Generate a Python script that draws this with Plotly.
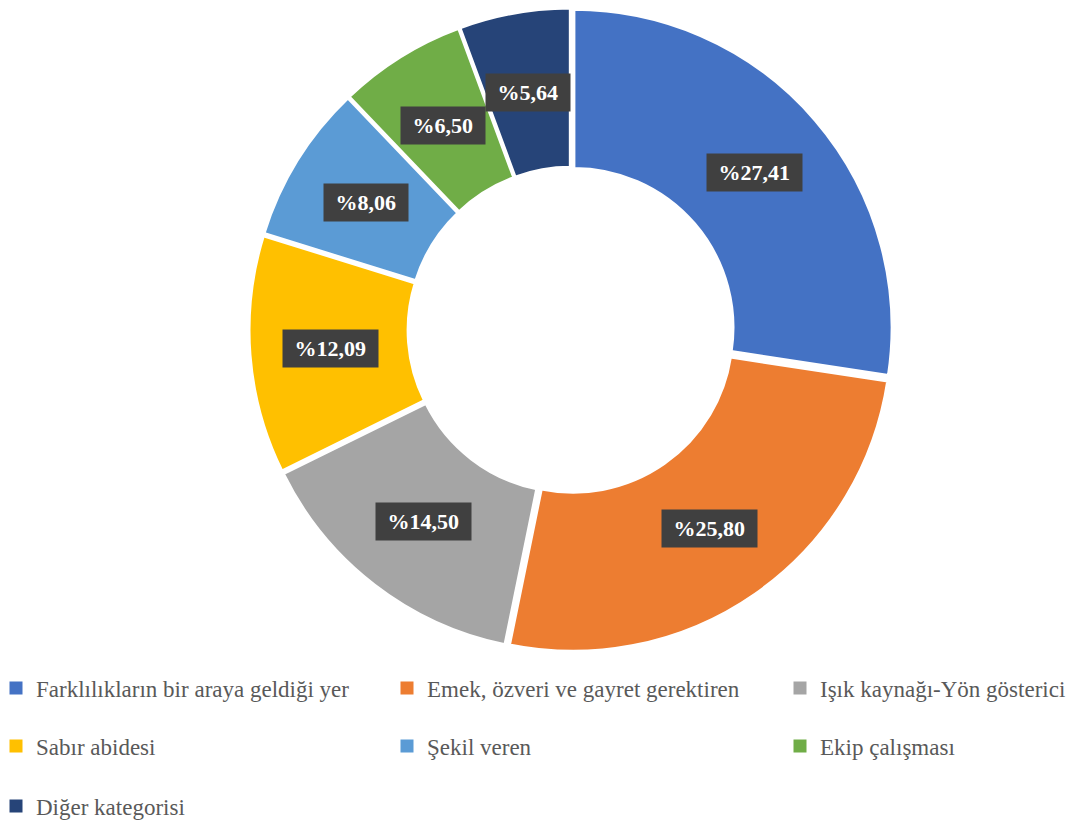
import math
import plotly.graph_objects as go

categories = [
    "Farklılıkların bir araya geldiği yer",
    "Emek, özveri ve gayret gerektiren",
    "Işık kaynağı-Yön gösterici",
    "Sabır abidesi",
    "Şekil veren",
    "Ekip çalışması",
    "Diğer kategorisi",
]
values = [27.41, 25.80, 14.50, 12.09, 8.06, 6.50, 5.64]
colors = ["#4472C4", "#ED7D31", "#A5A5A5", "#FFC000", "#5B9BD5", "#70AD47", "#264478"]

W, H = 1078, 826
CX, R = 563, 322
CY = R  # domain centre (top of domain at top of figure)
HOLE = 0.5
FONT = "Liberation Serif, Times New Roman, serif"

fig = go.Figure()
fig.add_trace(go.Pie(
    labels=categories, values=values, sort=False, direction="clockwise", rotation=0,
    hole=HOLE, marker=dict(colors=colors, line=dict(color="white", width=3)),
    pull=0.012, textinfo="none", showlegend=False,
    domain=dict(x=[(CX - R) / W, (CX + R) / W], y=[1 - 2 * R / H, 1]),
))

# data labels at mid-ring of each slice
total = sum(values)
cum = 0.0
rmid = R * (1 + HOLE) / 2
annotations = []
for v in values:
    ang = 2 * math.pi * (cum + v / 2) / total
    cum += v
    px = CX + rmid * math.sin(ang)
    py = CY - rmid * math.cos(ang)
    annotations.append(dict(
        x=px / W, y=1 - py / H, xref="paper", yref="paper", showarrow=False,
        xanchor="center", yanchor="middle",
        text="<b>&nbsp;%" + f"{v:.2f}".replace(".", ",") + "&nbsp;</b>",
        font=dict(family=FONT, size=22, color="white"),
        bgcolor="#404040", borderpad=6,
    ))

# legend: one small legend per entry, laid out in a 3-column grid
legend_x_px = [-12, 379, 772]
row_y = [680, 738, 798]
legend_layout = {}
for i, (c, col) in enumerate(zip(categories, colors)):
    name = "legend" if i == 0 else f"legend{i + 1}"
    fig.add_trace(go.Scatter(
        x=[None], y=[None], mode="markers", name=c,
        marker=dict(symbol="square", size=13, color=col),
        legend=name, showlegend=True,
    ))
    r, k = divmod(i, 3)
    legend_layout[name] = dict(
        x=legend_x_px[k] / W, xanchor="left",
        y=1 - row_y[r] / H, yanchor="middle",
        font=dict(family=FONT, size=23, color="#595959"),
        bgcolor="rgba(0,0,0,0)", itemclick=False, itemdoubleclick=False,
    )

fig.update_layout(
    width=W, height=H,
    font=dict(family=FONT, color="#595959"),
    margin=dict(l=0, r=0, t=0, b=0, autoexpand=False),
    paper_bgcolor="white", plot_bgcolor="white",
    xaxis=dict(visible=False), yaxis=dict(visible=False),
    annotations=annotations,
    **legend_layout,
)

fig.write_html("out.html")
